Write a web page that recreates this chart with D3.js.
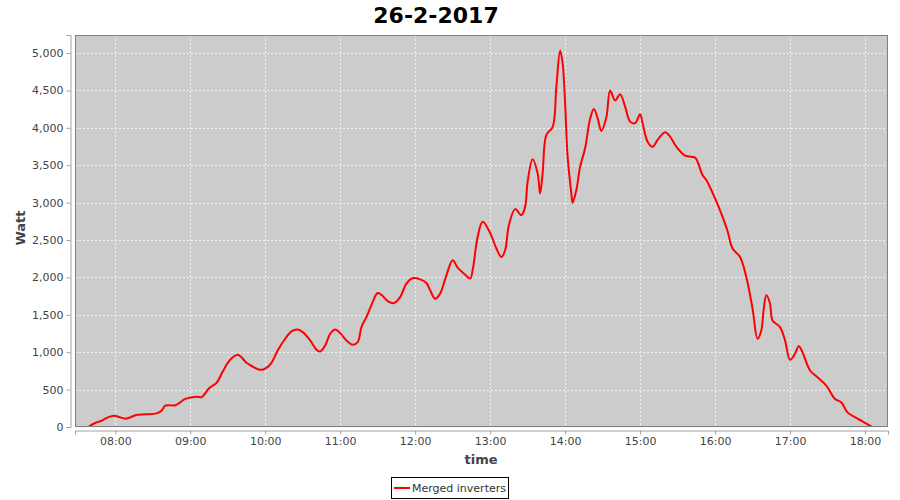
<!DOCTYPE html>
<html>
<head>
<meta charset="utf-8">
<script src="https://cdn.jsdelivr.net/npm/d3@7"></script>
<style>
    body { margin: 0; background: #fff; }
    svg { display: block; font-family: "DejaVu Sans", sans-serif; }
</style>
</head>
<body>
<div id="chart"></div>
<script>
const chartTitle = '26-2-2017';
const seriesName = 'Merged inverters';

// sample times (HH:MM) and power in watt
const times = [
    '07:39', '07:44', '07:49', '07:54', '07:59', '08:04', '08:08', '08:12', '08:16', '08:24',
    '08:33', '08:37', '08:40', '08:48', '08:52', '08:56', '09:05', '09:09', '09:11', '09:15',
    '09:21', '09:26', '09:30', '09:34', '09:38', '09:41', '09:45', '09:50', '09:56', '10:01',
    '10:05', '10:10', '10:16', '10:21', '10:26', '10:30', '10:36', '10:41', '10:44', '10:48',
    '10:52', '10:56', '11:00', '11:05', '11:10', '11:14', '11:17', '11:21', '11:26', '11:30',
    '11:34', '11:38', '11:43', '11:48', '11:53', '11:58', '12:04', '12:09', '12:12', '12:16',
    '12:20', '12:25', '12:30', '12:34', '12:40', '12:44', '12:46', '12:50', '12:54', '13:00',
    '13:05', '13:09', '13:12', '13:15', '13:20', '13:25', '13:28', '13:30', '13:34', '13:38',
    '13:40', '13:42', '13:45', '13:50', '13:53', '13:56', '13:58', '14:00', '14:02',
    '14:05', '14:06', '14:09', '14:12', '14:16', '14:20', '14:23', '14:26', '14:29', '14:33',
    '14:36', '14:40', '14:44', '14:48', '14:52', '14:56', '15:00', '15:02', '15:06', '15:10',
    '15:14', '15:20', '15:24', '15:29', '15:36', '15:44', '15:46', '15:50', '15:53', '16:00',
    '16:06', '16:10', '16:14', '16:20', '16:25', '16:30', '16:34', '16:37', '16:39', '16:41',
    '16:44', '16:46', '16:52', '16:56', '17:00', '17:04', '17:07', '17:10', '17:16', '17:22',
    '17:29', '17:36', '17:41', '17:46', '17:53', '17:58', '18:05'
];
const watts = [
    10, 54, 84, 129, 151, 129, 111, 129, 156, 169,
    182, 218, 285, 290, 330, 375, 406, 397, 429, 517,
    590, 741, 858, 933, 965, 933, 858, 808, 764, 791,
    858, 1023, 1180, 1278, 1304, 1268, 1157, 1032, 1009, 1090,
    1247, 1304, 1255, 1157, 1099, 1134, 1335, 1469, 1670, 1791,
    1751, 1684, 1657, 1737, 1917, 1988, 1974, 1925, 1827, 1716,
    1783, 2028, 2229, 2131, 2037, 1984, 2095, 2541, 2743, 2595,
    2386, 2273, 2363, 2698, 2913, 2832, 2944, 3279, 3579, 3391,
    3123, 3391, 3905, 4008, 4552, 5030, 4866, 4330, 3614,
    3123, 2997, 3168, 3480, 3727, 4120, 4250, 4130, 3958, 4140,
    4499, 4365, 4450, 4284, 4083, 4062, 4182, 4062, 3815, 3748,
    3838, 3941, 3882, 3748, 3627, 3601, 3547, 3369, 3302, 3056,
    2810, 2620, 2386, 2273, 2005, 1582, 1180, 1291, 1582, 1760,
    1649, 1425, 1335, 1157, 898, 979, 1080, 1000, 755, 665,
    554, 375, 330, 196, 121, 75, 8
];
const yTicks = [0, 500, 1000, 1500, 2000, 2500, 3000, 3500, 4000, 4500, 5000];
const xTicks = ['08:00', '09:00', '10:00', '11:00', '12:00', '13:00', '14:00', '15:00', '16:00', '17:00', '18:00'];
const xDomain = ['07:27:46', '18:18:24'];
const yMax = 5241;

const chart = (() => {
    const width = 900;
    const height = 500;
    const plot = { left: 75, right: 888, top: 35, bottom: 427 };

    const parseTime = d3.timeParse('%H:%M');
    const parseSec = d3.timeParse('%H:%M:%S');

    const draw = () => {
        const data = times.map((t, i) => ({ t: parseTime(t), v: watts[i] }));

        const x = d3.scaleTime()
            .domain(xDomain.map(parseSec))
            .range([plot.left, plot.right]);

        const y = d3.scaleLinear()
            .domain([0, yMax])
            .range([plot.bottom, plot.top]);

        const svg = d3.select('#chart').append('svg')
            .attr('width', width)
            .attr('height', height);

        svg.append('rect')
            .attr('x', plot.left)
            .attr('y', plot.top)
            .attr('width', plot.right - plot.left)
            .attr('height', plot.bottom - plot.top)
            .attr('fill', '#cccccc');

        // grid
        const grid = svg.append('g')
            .attr('stroke', '#f2f2f2')
            .attr('stroke-width', 1)
            .attr('stroke-dasharray', '2,2');

        grid.selectAll('.gy')
            .data(yTicks)
            .enter().append('line')
            .attr('x1', plot.left)
            .attr('x2', plot.right)
            .attr('y1', d => Math.round(y(d)) + 0.5)
            .attr('y2', d => Math.round(y(d)) + 0.5);

        grid.selectAll('.gx')
            .data(xTicks.map(parseTime))
            .enter().append('line')
            .attr('x1', d => Math.round(x(d)) + 0.5)
            .attr('x2', d => Math.round(x(d)) + 0.5)
            .attr('y1', plot.top)
            .attr('y2', plot.bottom);

        // y axis
        const yAxis = svg.append('g')
            .attr('transform', `translate(${plot.left - 4.5},0)`)
            .call(d3.axisLeft(y)
                .tickValues(yTicks)
                .tickSize(4)
                .tickPadding(3)
                .tickFormat(d3.format(',')));

        // x axis
        const xAxis = svg.append('g')
            .attr('transform', `translate(0,${plot.bottom + 3.5})`)
            .call(d3.axisBottom(x)
                .tickValues(xTicks.map(parseTime))
                .tickSize(4)
                .tickPadding(3)
                .tickFormat(d3.timeFormat('%H:%M')));

        [yAxis, xAxis].forEach(ax => {
            ax.select('.domain').attr('stroke', '#a0a0a0');
            ax.selectAll('.tick line').attr('stroke', '#a0a0a0');
            ax.selectAll('.tick text')
                .attr('fill', '#444')
                .style('font-size', '11px')
                .style('font-family', '"DejaVu Sans", sans-serif');
        });

        // series
        const line = d3.line()
            .x(d => x(d.t))
            .y(d => y(d.v))
            .curve(d3.curveCatmullRom.alpha(0.5));

        svg.append('path')
            .datum(data)
            .attr('fill', 'none')
            .attr('stroke', '#ff0000')
            .attr('stroke-width', 2)
            .attr('stroke-linejoin', 'round')
            .attr('d', line);

        // plot outline
        svg.append('rect')
            .attr('x', plot.left + 0.5)
            .attr('y', plot.top + 0.5)
            .attr('width', plot.right - plot.left - 1)
            .attr('height', plot.bottom - plot.top - 1)
            .attr('fill', 'none')
            .attr('stroke', '#808080');

        // titles
        svg.append('text')
            .attr('x', 436)
            .attr('y', 23)
            .attr('text-anchor', 'middle')
            .style('font-size', '22px')
            .style('font-weight', 'bold')
            .attr('fill', '#000')
            .text(chartTitle);

        svg.append('text')
            .attr('transform', 'translate(25,228) rotate(-90)')
            .attr('text-anchor', 'middle')
            .style('font-size', '13px')
            .style('font-weight', 'bold')
            .attr('fill', '#444')
            .text('Watt');

        svg.append('text')
            .attr('x', 481)
            .attr('y', 464)
            .attr('text-anchor', 'middle')
            .style('font-size', '13px')
            .style('font-weight', 'bold')
            .attr('fill', '#444')
            .text('time');

        // legend
        const legend = svg.append('g');
        legend.append('rect')
            .attr('x', 391.5)
            .attr('y', 477.5)
            .attr('width', 117)
            .attr('height', 21)
            .attr('fill', '#fff')
            .attr('stroke', '#000');
        legend.append('line')
            .attr('x1', 394)
            .attr('x2', 410)
            .attr('y1', 488)
            .attr('y2', 488)
            .attr('stroke', '#ff0000')
            .attr('stroke-width', 2);
        legend.append('text')
            .attr('x', 412)
            .attr('y', 492)
            .style('font-size', '11px')
            .attr('fill', '#333')
            .text(seriesName);
    };

    return { draw };
})();

document.addEventListener('DOMContentLoaded', chart.draw);
</script>
</body>
</html>
